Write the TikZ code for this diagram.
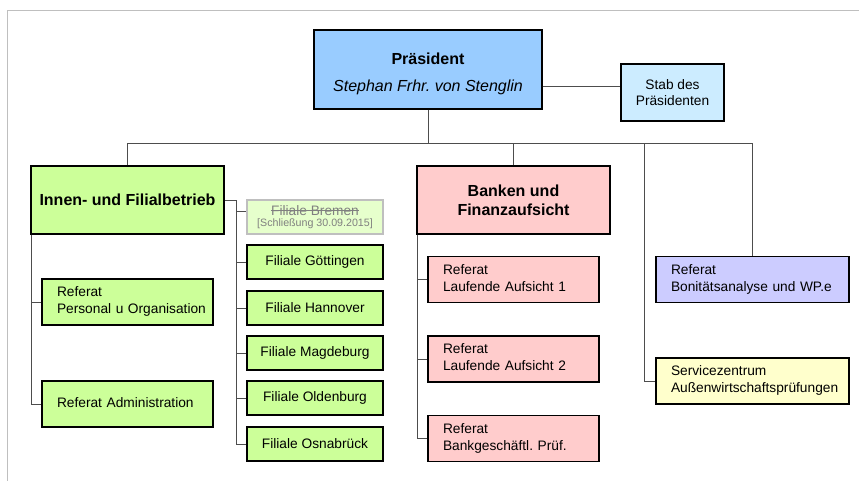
\documentclass[tikz,border=0pt]{standalone}
\usepackage{fontspec}
\setmainfont{Liberation Sans}
\usepackage{xcolor}
\usetikzlibrary{positioning,calc}
\frenchspacing

\definecolor{presblue}{HTML}{99CCFF}
\definecolor{stabblue}{HTML}{CCECFF}
\definecolor{ifgreen}{HTML}{CCFF99}
\definecolor{bremgreen}{HTML}{E6FFCC}
\definecolor{bfpink}{HTML}{FFCCCC}
\definecolor{bonlila}{HTML}{CCCCFF}
\definecolor{svcyellow}{HTML}{FFFFCC}
\definecolor{linegray}{HTML}{4D4D4D}
\definecolor{framegray}{HTML}{BFBFBF}

\newcommand{\reftext}[1]{\noindent\begin{tabular}{@{\hspace{11.25pt}}l@{}}#1\end{tabular}}
\newcommand{\strikeout}[1]{\setbox0\hbox{#1}\rlap{\raisebox{0.3em}{\rule{\wd0}{0.6pt}}}\box0}

\begin{document}
\begin{tikzpicture}[x=0.75pt,y=-0.75pt,
	box/.style={draw=black,line width=1.1pt,inner sep=0pt,align=center,font=\fontsize{10.3}{12.75}\selectfont},
	head/.style={box,font=\bfseries\fontsize{12}{14.25}\selectfont,minimum width=144.75pt,minimum height=51pt},
	referat/.style={box,align=left,text width=#1,minimum height=34.5pt},
	filiale/.style={box,fill=ifgreen,minimum width=102pt,minimum height=25.5pt},
	conn/.style={draw=linegray,line width=0.75pt}]

	\useasboundingbox (0,0) rectangle (859,481);
	\draw[framegray,line width=0.75pt] (7,481) -- (7,11) -- (859,11);

	\node[box,fill=presblue,minimum width=171pt,minimum height=59.25pt] (pres) at (428,69.5)
		{\rule{0pt}{15pt}\bfseries\fontsize{12}{14}\selectfont Präsident\\[7pt]\itshape\fontsize{12}{14}\selectfont Stephan Frhr. von Stenglin};
	\node[box,fill=stabblue,minimum width=77.25pt,minimum height=42.75pt,font=\fontsize{10.3}{12}\selectfont] (stab) at (672.5,92.5)
		{Stab des\\Präsidenten};

	\node[head,fill=ifgreen] (innen) at (127.5,200) {Innen- und Filialbetrieb};
	\node[head,fill=bfpink] (banken) at (513.5,200) {Banken und\\Finanzaufsicht};

	\node[referat=128.25pt,fill=ifgreen] (pers) at (127.5,302) {\reftext{Referat\\Personal u Organisation}};
	\node[referat=128.25pt,fill=ifgreen] (admin) at (127.5,404) {\reftext{Referat Administration}};

	\node[box,draw=framegray,fill=bremgreen,minimum width=102pt,minimum height=25.5pt,text=gray] (brem) at (315,217)
		{\strikeout{Filiale Bremen}\\[-4.5pt]{\fontsize{8}{8}\selectfont[Schließung 30.09.2015]}};
	\node[filiale] (goe) at (315,262) {Filiale Göttingen};
	\node[filiale] (han) at (315,308) {Filiale Hannover};
	\node[filiale] (mag) at (315,353) {Filiale Magdeburg};
	\node[filiale] (old) at (315,398) {Filiale Oldenburg};
	\node[filiale] (osn) at (315,444) {Filiale Osnabrück};

	\node[referat=128.25pt,fill=bfpink] (lauf1) at (513.5,279.5) {\reftext{Referat\\Laufende Aufsicht 1}};
	\node[referat=128.25pt,fill=bfpink] (lauf2) at (513.5,359) {\reftext{Referat\\Laufende Aufsicht 2}};
	\node[referat=128.25pt,fill=bfpink] (bgp) at (513.5,438.5) {\reftext{Referat\\Bankgeschäftl. Prüf.}};

	\node[referat=144.75pt,fill=bonlila] (bon) at (752.5,279.5) {\reftext{Referat\\Bonitätsanalyse und WP.e}};
	\node[referat=144.75pt,fill=svcyellow] (svc) at (752.5,381) {\reftext{Servicezentrum\\Außenwirtschaftsprüfungen}};

	\coordinate (bar) at (0,144);
	\coordinate (stabline) at (0,87);
	\coordinate (svcup) at (644,144);
	\coordinate (fcol) at (236,200);
	\coordinate (innenleft) at ($(innen.south west)+(1,0)$);
	\coordinate (bkleft) at ($(banken.south west)+(1,0)$);

	\draw[conn] (pres.east |- stabline) -- (stab.west |- stabline);
	\draw[conn] (pres.south) -- (pres.south |- bar);
	\draw[conn] (innen.north) |- (bon.north |- bar) -- (bon.north);
	\draw[conn] (banken.north) -- (banken.north |- bar);
	\draw[conn] (svcup) |- (svc.west);

	\draw[conn] (innenleft) |- (pers.west);
	\draw[conn] (innenleft) |- (admin.west);

	\draw[conn] (innen.east) -- (fcol) |- (osn.west);
	\draw[conn] (fcol |- 0,211) -- (brem.west |- 0,211);
	\foreach \f in {goe,han,mag,old}
		\draw[conn] (fcol |- \f.west) -- (\f.west);

	\foreach \r in {lauf1,lauf2,bgp}
		\draw[conn] (bkleft) |- (\r.west);
\end{tikzpicture}
\end{document}
